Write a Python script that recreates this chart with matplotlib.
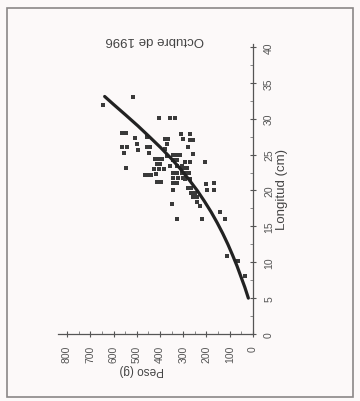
import matplotlib
matplotlib.use("Agg")
import matplotlib.pyplot as plt
from matplotlib.patches import Rectangle
from matplotlib.ticker import MultipleLocator

plt.rcParams['font.family'] = ['Liberation Sans', 'DejaVu Sans']

# Scatter data: weight (g) and length (cm)
peso = [646, 515, 403, 357, 335, 565, 546, 507, 500, 565, 542, 555, 546, 495,
        457, 457, 443, 446, 463, 421, 407, 393, 414, 400, 424, 405, 384, 417,
        411, 397, 378, 364, 371, 378, 371, 343, 328, 314, 343, 326, 357, 328,
        307, 343, 328, 307, 343, 321, 300, 343, 328, 343, 350, 328, 311, 300,
        271, 271, 259, 278, 293, 271, 300, 285, 293, 276, 257, 293, 271, 281,
        266, 266, 250, 259, 242, 242, 228, 206, 200, 169, 199, 169, 221, 142,
        120, 113, 63, 34, 450, 438]
longitud = [31.9, 33.0, 30.1, 30.1, 30.1, 28.0, 28.0, 27.3, 26.5, 26.1, 26.1,
            25.2, 23.1, 25.6, 27.4, 26.1, 26.1, 25.2, 22.1, 24.4, 24.4, 24.4,
            23.7, 23.7, 23.0, 23.0, 23.0, 22.3, 21.2, 21.2, 27.2, 27.2, 26.5,
            25.8, 24.8, 24.9, 24.9, 24.9, 24.2, 24.2, 23.4, 23.4, 23.4, 22.5,
            22.5, 22.5, 21.8, 21.8, 21.8, 21.1, 21.1, 20.0, 18.1, 16.0, 27.9,
            27.2, 27.9, 27.1, 27.1, 26.1, 23.9, 23.9, 23.2, 23.2, 22.5, 22.5,
            25.1, 21.6, 21.6, 20.4, 20.4, 19.7, 19.7, 19.1, 19.1, 18.4, 17.9,
            23.9, 20.9, 21.1, 20.0, 20.0, 16.0, 17.0, 16.0, 10.9, 10.2, 8.1,
            22.2, 22.2]

# Fitted curve
curva_long = [5, 6.5, 8, 9.5, 11, 12.5, 14, 15.5, 17, 18.5, 20, 21.5, 23,
              24.5, 26, 27.5, 29, 30.5, 32, 33.1]
curva_peso = [20, 35, 52, 69, 88, 108, 130, 154, 180, 209, 240, 275, 312,
              353, 398, 446, 495, 547, 600, 638]

peso_ticks = [0, 100, 200, 300, 400, 500, 600, 700, 800]
long_ticks = [0, 5, 10, 15, 20, 25, 30, 35, 40]

W, H = 360, 402
fig = plt.figure(figsize=(W / 100, H / 100), dpi=100)
fig.patch.set_facecolor('#fcf9f9')

# outer frame
fig.patches.append(Rectangle((7 / W, 1 - 398 / H), (353 - 7) / W, (398 - 9) / H,
                             transform=fig.transFigure, fill=False,
                             edgecolor='#8a8888', lw=1.2))

ax = fig.add_axes([57.7 / W, (H - 335) / H, (253 - 57.7) / W, (335 - 45.1) / H])
ax.set_facecolor('none')
ax.set_xlim(840, 0)
ax.set_ylim(0, 40.4)

ax.scatter(peso, longitud, marker='s', s=7, color='#3a3a3a', linewidths=0, zorder=2)
ax.plot(curva_peso, curva_long, color='#222222', lw=2.3, zorder=3,
        solid_capstyle='round', solid_joinstyle='round')

for s in ['top', 'left']:
    ax.spines[s].set_visible(False)
for s in ['bottom', 'right']:
    ax.spines[s].set_color('#555555')
    ax.spines[s].set_linewidth(0.9)

ax.yaxis.tick_right()
ax.set_xticks(peso_ticks)
ax.set_xticklabels([str(v) for v in peso_ticks], rotation=90, fontsize=7.5,
                   color='#555555')
ax.set_yticks(long_ticks)
ax.set_yticklabels([str(v) for v in long_ticks], rotation=90, fontsize=7.5,
                   color='#555555', va='center')
ax.yaxis.set_minor_locator(MultipleLocator(2.5))
ax.xaxis.set_minor_locator(MultipleLocator(50))
ax.tick_params(axis='both', which='major', direction='inout', length=4,
               width=0.8, color='#555555', pad=6)
ax.tick_params(axis='both', which='minor', direction='in', length=2,
               width=0.6, color='#777777')

fig.text(155 / W, 1 - 40 / H, 'Octubre de 1996', rotation=180, ha='center',
         va='center', fontsize=9.5, color='#444444')
fig.text(282 / W, 1 - 190 / H, 'Longitud (cm)', rotation=90, ha='center',
         va='center', fontsize=9.5, color='#444444')
fig.text(142 / W, 1 - 370 / H, 'Peso (g)', rotation=180, ha='center',
         va='center', fontsize=8.5, color='#444444')

fig.savefig('out.png', dpi=100, facecolor=fig.get_facecolor())
